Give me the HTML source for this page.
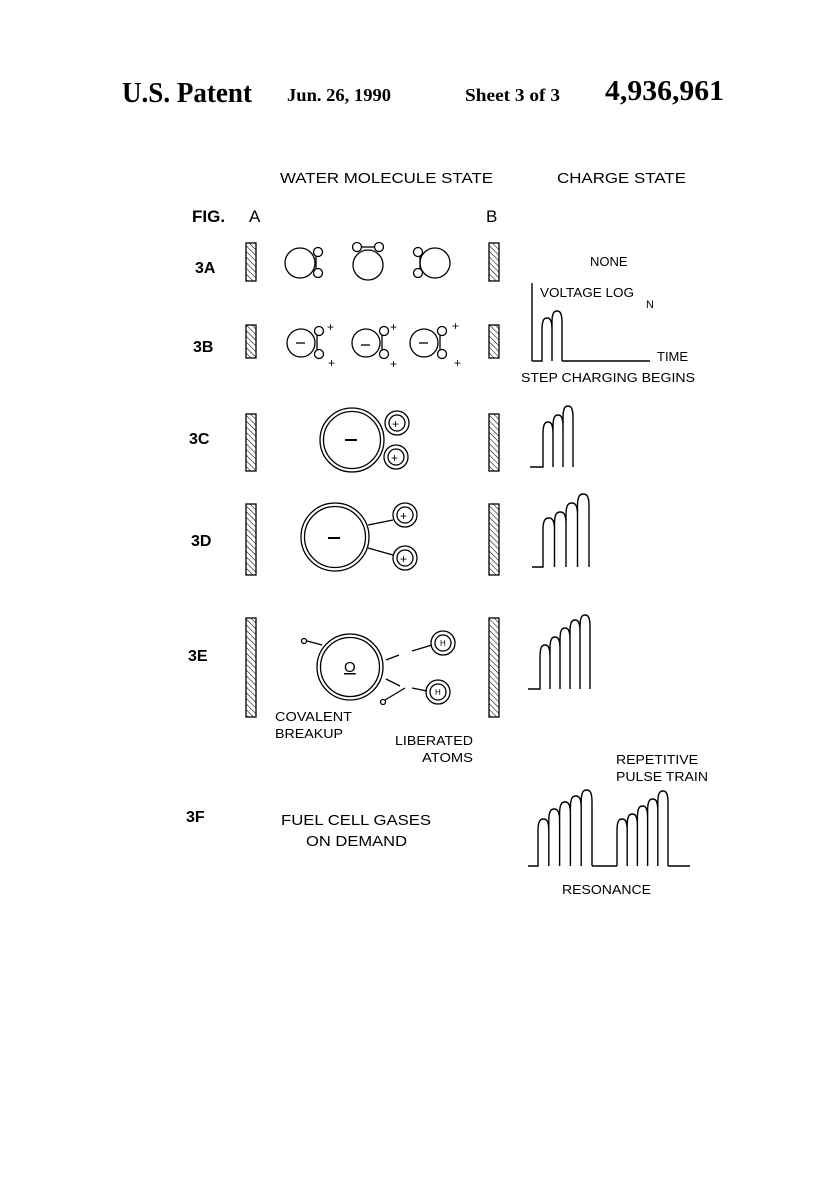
<!DOCTYPE html>
<html><head><meta charset="utf-8">
<style>
html,body{margin:0;padding:0;background:#fff;}
svg{display:block;}
text{font-family:"Liberation Sans",sans-serif;fill:#000;}
.serif{font-family:"Liberation Serif",serif;font-weight:bold;}
</style></head>
<body>
<svg width="814" height="1192" viewBox="0 0 814 1192">
<defs>
<pattern id="hatch" width="4" height="4" patternUnits="userSpaceOnUse" patternTransform="rotate(-45)">
<line x1="0" y1="0" x2="0" y2="4" stroke="#000" stroke-width="1.1"/>
</pattern>
</defs>
<g>
<text class="serif" x="122" y="102" font-size="29" textLength="130" lengthAdjust="spacingAndGlyphs">U.S. Patent</text>
<text class="serif" x="287" y="101" font-size="18" textLength="104" lengthAdjust="spacingAndGlyphs">Jun. 26, 1990</text>
<text class="serif" x="465" y="101" font-size="18" textLength="95" lengthAdjust="spacingAndGlyphs">Sheet 3 of 3</text>
<text class="serif" x="605" y="100" font-size="29" textLength="119" lengthAdjust="spacingAndGlyphs">4,936,961</text>
</g>
<text x="280" y="183" font-size="15" textLength="213" lengthAdjust="spacingAndGlyphs">WATER MOLECULE STATE</text>
<text x="557" y="183" font-size="15" textLength="129" lengthAdjust="spacingAndGlyphs">CHARGE STATE</text>
<text x="192" y="222" font-size="17" font-weight="bold">FIG.</text>
<text x="249" y="222" font-size="17">A</text>
<text x="486" y="222" font-size="17">B</text>

<g font-size="16" font-weight="bold">
<text x="195" y="273">3A</text>
<text x="193" y="352">3B</text>
<text x="189" y="444">3C</text>
<text x="191" y="546">3D</text>
<text x="188" y="661">3E</text>
<text x="186" y="822">3F</text>
</g>

<g id="plates" stroke="#000" stroke-width="1.3" fill="url(#hatch)"></g>

<g fill="none" stroke="#000" stroke-width="1.3">
<g><circle cx="300" cy="263" r="15"/><line x1="316" y1="256" x2="316" y2="270"/><circle cx="318" cy="252" r="4.5" fill="#fff"/><circle cx="318" cy="273" r="4.5" fill="#fff"/></g>
<g><circle cx="368" cy="265" r="15"/><line x1="361" y1="247" x2="375" y2="247"/><circle cx="357" cy="247" r="4.5" fill="#fff"/><circle cx="379" cy="247" r="4.5" fill="#fff"/></g>
<g><circle cx="435" cy="263" r="15"/><line x1="420" y1="256" x2="420" y2="270"/><circle cx="418" cy="252" r="4.5" fill="#fff"/><circle cx="418" cy="273" r="4.5" fill="#fff"/></g>
<g><circle cx="301" cy="343" r="14"/><line x1="317" y1="335" x2="317" y2="350"/><circle cx="319" cy="331" r="4.5" fill="#fff"/><circle cx="319" cy="354" r="4.5" fill="#fff"/><line x1="296" y1="343" x2="305" y2="343"/></g>
<g><circle cx="366" cy="343" r="14"/><line x1="382" y1="335" x2="382" y2="350"/><circle cx="384" cy="331" r="4.5" fill="#fff"/><circle cx="384" cy="354" r="4.5" fill="#fff"/><line x1="361" y1="345" x2="370" y2="345"/></g>
<g><circle cx="424" cy="343" r="14"/><line x1="440" y1="335" x2="440" y2="350"/><circle cx="442" cy="331" r="4.5" fill="#fff"/><circle cx="442" cy="354" r="4.5" fill="#fff"/><line x1="419" y1="343" x2="428" y2="343"/></g>
<g><circle cx="352" cy="440" r="32"/><circle cx="352" cy="440" r="28.5"/><line x1="345" y1="440" x2="357" y2="440" stroke-width="2"/>
<circle cx="397" cy="423" r="12"/><circle cx="397" cy="423" r="8"/><circle cx="396" cy="457" r="12"/><circle cx="396" cy="457" r="8"/></g>
<g><circle cx="335" cy="537" r="34"/><circle cx="335" cy="537" r="30.5"/><line x1="328" y1="538" x2="340" y2="538" stroke-width="2"/>
<line x1="368" y1="525" x2="393" y2="520"/><line x1="368" y1="548" x2="393" y2="555"/>
<circle cx="405" cy="515" r="12"/><circle cx="405" cy="515" r="8"/><circle cx="405" cy="558" r="12"/><circle cx="405" cy="558" r="8"/></g>
<g><circle cx="350" cy="667" r="33"/><circle cx="350" cy="667" r="29.5"/>
<line x1="307" y1="641" x2="322" y2="645"/><circle cx="304" cy="641" r="2.5"/>
<line x1="386" y1="679" x2="400" y2="686"/><line x1="386" y1="660" x2="399" y2="655"/>
<line x1="385" y1="700" x2="405" y2="688"/><circle cx="383" cy="702" r="2.5"/>
<line x1="412" y1="651" x2="432" y2="645"/><line x1="412" y1="688" x2="427" y2="691"/>
<circle cx="443" cy="643" r="12"/><circle cx="443" cy="643" r="8"/><circle cx="438" cy="692" r="12"/><circle cx="438" cy="692" r="8"/></g>
</g>
<g font-size="12">
<text x="327" y="331">+</text><text x="328" y="367">+</text>
<text x="390" y="331">+</text><text x="390" y="368">+</text>
<text x="452" y="330">+</text><text x="454" y="367">+</text>
<text x="392" y="428">+</text><text x="391" y="462">+</text>
<text x="400" y="520">+</text><text x="400" y="563">+</text>
<text x="440" y="646" font-size="8">H</text><text x="435" y="695" font-size="8">H</text>
<text x="344" y="672" font-size="15" text-decoration="underline">O</text>
</g>

<g font-size="13">
<text x="275" y="721" textLength="77" lengthAdjust="spacingAndGlyphs">COVALENT</text>
<text x="275" y="738" textLength="68" lengthAdjust="spacingAndGlyphs">BREAKUP</text>
<text x="395" y="745" textLength="78" lengthAdjust="spacingAndGlyphs">LIBERATED</text>
<text x="422" y="762" textLength="51" lengthAdjust="spacingAndGlyphs">ATOMS</text>
<text x="281" y="825" font-size="15" textLength="150" lengthAdjust="spacingAndGlyphs">FUEL CELL GASES</text>
<text x="306" y="846" font-size="15" textLength="101" lengthAdjust="spacingAndGlyphs">ON DEMAND</text>
<text x="590" y="266">NONE</text>
<text x="540" y="297" textLength="94" lengthAdjust="spacingAndGlyphs">VOLTAGE LOG</text>
<text x="646" y="308" font-size="11">N</text>
<text x="657" y="361">TIME</text>
<text x="521" y="382" textLength="174" lengthAdjust="spacingAndGlyphs">STEP CHARGING BEGINS</text>
<text x="616" y="764" textLength="82" lengthAdjust="spacingAndGlyphs">REPETITIVE</text>
<text x="616" y="781" textLength="92" lengthAdjust="spacingAndGlyphs">PULSE TRAIN</text>
<text x="562" y="894" textLength="89" lengthAdjust="spacingAndGlyphs">RESONANCE</text>
</g>

<g id="charts" fill="none" stroke="#000" stroke-width="1.4">
<line x1="532" y1="283" x2="532" y2="361"/>
</g>

<script>
const plateX = [246, 489];
const plateTops = [243, 325, 414, 504, 618];
const plateBottoms = [281, 358, 471, 575, 717];
const pulses3B = [43, 50];
const pulses3C = [45, 52, 61];
const pulses3D = [49, 55, 64, 73];
const pulses3E = [44, 52, 61, 69, 74];
const pulses3F1 = [47, 57, 64, 70, 76];
const pulses3F2 = [47, 52, 60, 67, 75];

const ns = 'http://www.w3.org/2000/svg';
const pg = document.getElementById('plates');
for (let i = 0; i < plateTops.length; i++) {
  for (const x of plateX) {
    const r = document.createElementNS(ns, 'rect');
    r.setAttribute('x', x); r.setAttribute('y', plateTops[i]);
    r.setAttribute('width', 10); r.setAttribute('height', plateBottoms[i] - plateTops[i]);
    
    
    pg.appendChild(r);
  }
}

const cg = document.getElementById('charts');
function train(x0, startX, base, w, heights, endX) {
  let d = 'M' + x0 + ' ' + base + ' L' + startX + ' ' + base;
  let x = startX;
  heights.forEach(h => {
    const top = base - h;
    const k = 12;
    d += ' L' + x + ' ' + (top + k) + ' C' + x + ' ' + (top + 2) + ' ' + (x + w * 0.2) + ' ' + top + ' ' + (x + w / 2) + ' ' + top +
         ' C' + (x + w * 0.8) + ' ' + top + ' ' + (x + w) + ' ' + (top + 2) + ' ' + (x + w) + ' ' + (top + k) + ' L' + (x + w) + ' ' + base;
    x += w;
    d += ' M' + x + ' ' + base;
  });
  if (endX) d += ' L' + endX + ' ' + base;
  return { d, end: x };
}
function addPath(d, name) {
  const p = document.createElementNS(ns, 'path');
  p.setAttribute('d', d);
  
  
  cg.appendChild(p);
}
let t = train(532, 542, 361, 10, pulses3B, 650); addPath(t.d, 'pulse-train-3b');
t = train(530, 543, 467, 10, pulses3C); addPath(t.d, 'pulse-train-3c');
t = train(532, 543, 567, 11.5, pulses3D); addPath(t.d, 'pulse-train-3d');
t = train(528, 540, 689, 10, pulses3E); addPath(t.d, 'pulse-train-3e');
t = train(528, 538, 866, 10.8, pulses3F1, 617); addPath(t.d, 'pulse-train-3f-a');
t = train(617, 617, 866, 10.2, pulses3F2, 690); addPath(t.d, 'pulse-train-3f-b');
</script>
</svg>
</body></html>
